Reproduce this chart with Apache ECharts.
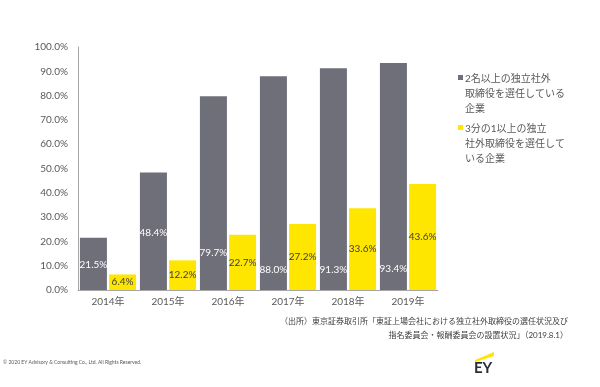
<!DOCTYPE html>
<html><head><meta charset="utf-8">
<script src="https://cdn.jsdelivr.net/npm/echarts@6/dist/echarts.min.js"></script>
<style>html,body{margin:0;padding:0;background:#fff}#c{width:600px;height:387px}</style>
</head><body><div id="c"></div>
<script>
const categories = ['2014年','2015年','2016年','2017年','2018年','2019年'];
const seriesNames = ['2名以上の独立社外\n取締役を選任している\n企業','3分の1以上の独立\n社外取締役を選任して\nいる企業'];
const twoOrMore = [21.5, 48.4, 79.7, 88.0, 91.3, 93.4];
const oneThird = [6.4, 12.2, 22.7, 27.2, 33.6, 43.6];
const yTicks = [0,10,20,30,40,50,60,70,80,90,100];
const sourceLines = ['（出所）東京証券取引所「東証上場会社における独立社外取締役の選任状況及び','指名委員会・報酬委員会の設置状況」（2019.8.1）'];
const copyright = '© 2020 EY Advisory & Consulting Co., Ltd. All Rights Reserved.';
// label lift above bar base for the gray series (style)
const grayLabelLift = [20, 52, 32, 15, 15, 16];

const FONT = "Lato, 'Noto Sans CJK JP', sans-serif";
const GRAY = '#6f6f79', YEL = '#ffe600';
const chart = echarts.init(document.getElementById('c'));
chart.setOption({
  animation:false,
  grid:{left:78,right:162,top:47,bottom:97},
  xAxis:{type:'category',data:categories,
    axisLine:{lineStyle:{color:'#a6a6a6'}},axisTick:{show:false},
    axisLabel:{color:'#595959',fontSize:10,fontFamily:FONT,margin:7}},
  yAxis:{type:'value',min:0,max:100,interval:10,
    axisLine:{show:true,lineStyle:{color:'#a6a6a6'}},axisTick:{show:false},splitLine:{show:false},
    axisLabel:{color:'#595959',fontSize:10,fontFamily:FONT,margin:10,
      formatter:v=>yTicks.includes(v)?v.toFixed(1)+'%':''}},
  series:[
    {name:seriesNames[0],type:'bar',barWidth:27,barGap:'8%',itemStyle:{color:GRAY},
     data:twoOrMore.map((v,i)=>({value:v,label:{position:'insideBottom',distance:grayLabelLift[i]}})),
     label:{show:true,color:'#fff',fontSize:10,fontFamily:FONT,formatter:p=>p.value.toFixed(1)+'%'}},
    {name:seriesNames[1],type:'bar',barWidth:27,itemStyle:{color:YEL},data:oneThird,
     label:{show:true,position:'inside',color:'#404040',fontSize:10,fontFamily:FONT,formatter:p=>p.value.toFixed(1)+'%'}}
  ],
  graphic:[
    {type:'rect',left:458,top:75,shape:{width:5,height:5},style:{fill:GRAY}},
    {type:'text',left:465,top:71,style:{text:seriesNames[0],fill:'#595959',font:"10px "+FONT,lineHeight:15}},
    {type:'rect',left:458,top:125,shape:{width:5,height:5},style:{fill:YEL}},
    {type:'text',left:465,top:121,style:{text:seriesNames[1],fill:'#595959',font:"10px "+FONT,lineHeight:15}},
    {type:'text',right:32,top:317,style:{text:sourceLines[0],fill:'#404040',font:"8px "+FONT}},
    {type:'text',right:32,top:331,style:{text:sourceLines[1],fill:'#404040',font:"8px "+FONT}},
    {type:'text',left:3,top:360,style:{text:copyright,fill:'#595959',font:"5px "+FONT}},
    {type:'polygon',shape:{points:[[475,360],[494,352],[494,356],[475,362]]},style:{fill:YEL}},
    {type:'text',left:474,top:361,style:{text:'EY',fill:'#2e2e38',font:"bold 15px "+FONT}}
  ]
});
</script></body></html>
